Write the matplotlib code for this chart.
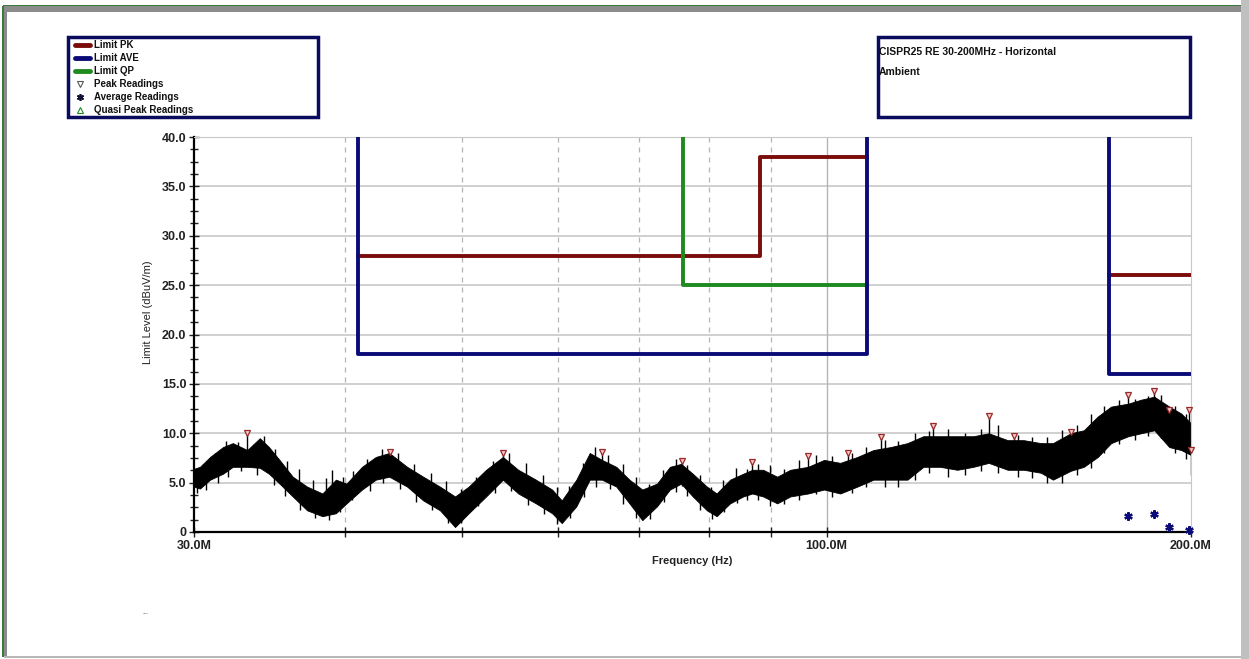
import numpy as np
import matplotlib
matplotlib.use("Agg")
import matplotlib.pyplot as plt
from matplotlib.patches import Rectangle
from matplotlib.lines import Line2D

plt.rcParams["font.family"] = ["Liberation Sans", "DejaVu Sans"]

W, H = 1249, 659

# ambient trace envelope (MHz, dBuV/m)
freq = [30.0, 30.34, 30.93, 31.7, 32.3, 33.2, 34.0, 34.6, 35.3, 36.2, 37.2, 38.3,
        39.3, 40.1, 41.3, 42.4, 43.5, 45.0, 46.4, 47.9, 49.3, 50.6, 52.3, 54.0,
        55.6, 57.5, 59.3, 60.4, 62.1, 63.7, 65.2, 67.0, 68.7, 70.4, 72.4, 74.2,
        75.8, 77.5, 79.6, 81.1, 83.2, 85.3, 86.8, 88.6, 91.0, 93.3, 96.5, 99.5,
        102.6, 106.0, 109.3, 112.9, 116.6, 120.2, 124.1, 128.2, 132.2, 136.1,
        141.1, 145.5, 150.3, 153.8, 159.1, 163.1, 167.5, 171.8, 177.5, 181.9,
        186.5, 191.9, 196.3, 200.0]
low = [4.6, 4.4, 5.3, 5.9, 6.6, 6.6, 6.5, 5.9, 4.9, 3.6, 2.2, 1.6,
       1.9, 2.9, 4.3, 5.3, 5.6, 4.6, 3.2, 2.2, 0.5, 1.9, 3.6, 5.3,
       3.9, 2.9, 1.9, 0.9, 2.6, 5.3, 5.3, 4.6, 2.9, 1.2, 2.6, 4.3,
       4.9, 3.6, 2.2, 1.6, 2.9, 3.6, 3.9, 3.6, 2.9, 3.6, 3.9, 4.3,
       3.9, 4.6, 5.3, 5.3, 5.3, 6.6, 6.6, 6.3, 6.6, 7.0,
       6.3, 6.3, 6.0, 5.3, 6.2, 6.6, 7.6, 9.0, 9.7, 10.0,
       10.3, 8.6, 8.3, 7.8]
high = [6.4, 6.6, 7.6, 8.6, 9.0, 8.3, 9.5, 8.6, 7.3, 5.6, 4.6, 3.9,
        5.3, 4.9, 6.6, 7.6, 8.0, 6.6, 5.6, 4.6, 3.6, 4.6, 6.3, 7.6,
        6.3, 5.3, 4.3, 3.2, 5.3, 8.0, 7.3, 6.6, 5.3, 4.3, 4.9, 6.6,
        6.9, 5.9, 4.6, 3.9, 5.3, 5.9, 6.3, 6.3, 5.6, 6.3, 6.6, 7.3,
        7.0, 7.6, 8.3, 8.6, 9.0, 9.7, 9.7, 9.7, 9.7, 10.0,
        9.3, 9.3, 9.0, 9.0, 10.0, 10.3, 11.7, 12.7, 13.0, 13.4,
        13.7, 12.7, 12.0, 11.0]

# individual noise spikes poking out of the band
up_f = [30.5, 31.2, 31.9, 32.6, 33.6, 34.3, 35.0, 35.8, 36.6, 37.6, 38.6, 39.0,
        39.8, 40.6, 41.7, 42.9, 44.2, 45.6, 47.1, 48.5, 49.9, 51.3, 53.0, 54.6,
        56.4, 58.3, 59.8, 61.2, 62.9, 64.3, 66.0, 67.8, 69.5, 71.3, 73.3, 75.0,
        76.6, 78.5, 80.3, 82.1, 84.2, 86.0, 87.7, 89.8, 92.2, 94.9, 98.0, 101.0,
        104.9, 107.7, 111.8, 114.6, 118.4, 121.4, 126.0, 130.2, 134.0, 138.5,
        143.8, 147.9, 152.0, 156.4, 161.0, 165.3, 169.6, 174.5, 179.7, 184.2,
        189.0, 194.0, 198.0]
up_v = [6.9, 8.0, 9.2, 9.1, 8.9, 9.7, 8.4, 7.2, 6.4, 5.3, 5.5, 6.3,
        5.6, 6.2, 7.4, 8.4, 8.0, 6.9, 6.0, 5.2, 4.4, 5.6, 7.2, 8.0,
        7.0, 5.8, 4.6, 4.7, 7.0, 8.6, 7.8, 6.9, 5.6, 4.9, 6.3, 7.4,
        6.8, 5.8, 4.6, 5.3, 6.5, 6.4, 6.9, 6.8, 6.4, 7.3, 7.8, 7.7,
        8.0, 8.6, 9.3, 9.2, 10.0, 10.2, 10.4, 10.0, 10.4, 10.8,
        9.8, 9.6, 9.6, 10.3, 10.8, 11.9, 12.8, 13.4, 13.5, 13.8,
        13.9, 12.8, 12.0]
down_f = [30.2, 30.7, 31.4, 32.0, 32.8, 33.8, 34.9, 35.7, 36.7, 37.8, 38.8, 39.6,
          40.5, 41.9, 43.0, 44.4, 45.8, 47.2, 48.6, 49.9, 51.5, 53.2, 54.8, 56.6,
          58.4, 59.8, 61.3, 63.0, 64.5, 66.2, 67.9, 69.6, 71.4, 73.4, 75.0, 76.7,
          78.6, 80.4, 82.2, 84.3, 86.0, 87.7, 89.8, 92.2, 94.9, 98.0, 101.0, 104.9,
          107.7, 111.8, 114.6, 118.4, 121.4, 126.0, 130.2, 134.0, 138.5, 143.8,
          147.9, 152.0, 156.4, 161.0, 165.3, 169.6, 174.5, 179.7, 184.2, 189.0,
          194.0, 198.0]
down_v = [4.0, 4.3, 5.0, 5.6, 6.2, 5.8, 4.8, 3.6, 2.2, 1.4, 1.2, 2.0,
          3.2, 4.2, 5.0, 4.4, 3.0, 2.2, 0.9, 0.9, 2.6, 4.0, 4.2, 2.7,
          1.8, 0.8, 1.4, 3.5, 4.6, 4.4, 2.8, 1.4, 1.3, 3.0, 4.1, 3.6,
          2.2, 1.3, 2.0, 2.9, 3.2, 3.2, 2.6, 2.8, 3.2, 3.8, 3.5, 3.9,
          4.6, 4.6, 4.6, 5.3, 6.0, 5.6, 5.8, 6.2, 6.0, 5.6,
          5.5, 5.0, 5.0, 5.8, 6.5, 8.0, 8.9, 9.3, 9.7, 9.5,
          8.0, 7.4]

peak_f = [33.2, 43.6, 54.0, 65.2, 75.9, 86.8, 96.5, 104.2, 110.9, 122.5, 136.1,
          142.7, 159.1, 177.5, 186.5, 191.9, 199.3, 200.0]
peak_v = [10.0, 8.1, 8.0, 8.1, 7.2, 7.1, 7.7, 8.0, 9.6, 10.7, 11.7,
          9.7, 10.1, 13.9, 14.3, 12.4, 12.4, 8.3]

ave_f = [177.5, 186.5, 191.9, 199.3]
ave_v = [1.65, 1.8, 0.55, 0.2]

# limit segments
pk_f = [41, 88, 88, 108]
pk_v = [28, 28, 38, 38]
ave_lim_f = [41, 41, 108, 108]
ave_lim_v = [45, 18, 18, 45]
qp_f = [76, 76, 108]
qp_v = [45, 25, 25]
pk2_f = [171, 200]
pk2_v = [26, 26]
ave2_f = [171, 171, 200]
ave2_v = [45, 16, 16]

C_PK = "#7a0c0c"
C_AVE = "#0b0b78"
C_QP = "#1f8a1f"
NAVY = "#0b0b5e"


def fx(x):
    return x / W


def fy(y):
    return 1 - y / H


fig = plt.figure(figsize=(W / 100, H / 100), dpi=100)
fig.patch.set_facecolor("white")

# window frame
fig.add_artist(Rectangle((fx(3), fy(6)), fx(1238), 1.5 / H, transform=fig.transFigure,
                         facecolor="#3a7a3a", edgecolor="none"))
fig.add_artist(Rectangle((fx(4), fy(12)), fx(1237), 6 / H, transform=fig.transFigure,
                         facecolor="#8c8c8c", edgecolor="none"))
fig.add_artist(Rectangle((fx(2), fy(657)), fx(2), 651 / H, transform=fig.transFigure,
                         facecolor="#3a7a3a", edgecolor="none"))
fig.add_artist(Rectangle((fx(4), fy(657)), fx(3), 645 / H, transform=fig.transFigure,
                         facecolor="#8c8c8c", edgecolor="none"))
fig.add_artist(Rectangle((fx(1241), 0), fx(8), 1, transform=fig.transFigure,
                         facecolor="#c0c0c0", edgecolor="none"))
fig.add_artist(Rectangle((fx(4), fy(658)), fx(1237), 2 / H, transform=fig.transFigure,
                         facecolor="#b8b8b8", edgecolor="none"))

ax = fig.add_axes([fx(194), fy(532), fx(1191 - 194), (532 - 137) / H])
ax.set_xscale("log")
ax.set_xlim(30, 200)
ax.set_ylim(0, 40)

for v in range(5, 41, 5):
    ax.axhline(v, color="#c8c8c8", lw=1.2, zorder=0)
for f in [40, 50, 60, 70, 80, 90]:
    ax.axvline(f, color="#b4b4b4", lw=0.9, ls=(0, (4, 4)), zorder=0)
ax.axvline(100, color="#b4b4b4", lw=1.0, zorder=0)

# ambient scan: filled band with spikes sticking out of it
ax.fill_between(freq, low, high, color="black", lw=0.6, edgecolor="black", zorder=2)
ax.vlines(up_f, [v - 2.0 for v in up_v], up_v, color="black", lw=1.0, zorder=2)
ax.vlines(down_f, down_v, [v + 2.0 for v in down_v], color="black", lw=1.0, zorder=2)
ax.vlines(peak_f, [v - 2.5 for v in peak_v], peak_v, color="black", lw=1.0, zorder=2)

ax.plot(pk_f, pk_v, color=C_PK, lw=2.8, zorder=3)
ax.plot(pk2_f, pk2_v, color=C_PK, lw=2.8, zorder=3)
ax.plot(qp_f, qp_v, color=C_QP, lw=2.8, zorder=3)
ax.plot(ave_lim_f, ave_lim_v, color=C_AVE, lw=2.8, zorder=3)
ax.plot(ave2_f, ave2_v, color=C_AVE, lw=2.8, zorder=3)

ax.plot(peak_f, peak_v, ls="none", marker="v", ms=5, mfc="#f4c8c8",
        mec="#9a2a2a", mew=0.9, zorder=4, clip_on=False)
ax.plot(ave_f, ave_v, ls="none", marker=(6, 2, 0), ms=6, mec=C_AVE,
        mew=1.6, zorder=4, clip_on=False)

ax.set_xticks([30, 40, 50, 60, 70, 80, 90, 100, 200])
ax.set_xticklabels(["30.0M", "", "", "", "", "", "", "100.0M", "200.0M"])
ax.xaxis.set_minor_locator(matplotlib.ticker.NullLocator())
ax.set_yticks(range(0, 41, 5))
ax.set_yticklabels(["0"] + ["%.1f" % v for v in range(5, 41, 5)])
ax.set_yticks(np.arange(0, 40.01, 1.25), minor=True)
ax.tick_params(axis="both", which="major", direction="inout", length=7, width=1.0,
               labelsize=9, colors="#222222", pad=2)
ax.tick_params(axis="y", which="minor", direction="inout", length=6, width=1.0,
               colors="#222222")
for lab in ax.get_xticklabels() + ax.get_yticklabels():
    lab.set_fontweight("bold")

ax.spines["left"].set_linewidth(1.6)
ax.spines["bottom"].set_linewidth(1.6)
ax.spines["top"].set_color("#c8c8c8")
ax.spines["right"].set_color("#c8c8c8")

fig.text(fx(692), fy(561), "Frequency (Hz)", fontsize=8, fontweight="bold",
         ha="center", va="center", color="#222222")
fig.text(fx(148), fy(312), "Limit Level (dBuV/m)", fontsize=8, rotation=90,
         ha="center", va="center", color="#222222")

# legend box
fig.add_artist(Rectangle((fx(68), fy(117)), fx(250), 80 / H, transform=fig.transFigure,
                         facecolor="white", edgecolor=NAVY, lw=2.5))
leg_labels = ["Limit PK", "Limit AVE", "Limit QP", "Peak Readings",
              "Average Readings", "Quasi Peak Readings"]
leg_y = [45, 58, 71, 84, 97, 110]
for i, (lab, yy) in enumerate(zip(leg_labels, leg_y)):
    if i < 3:
        fig.add_artist(Line2D([fx(75), fx(90)], [fy(yy), fy(yy)], transform=fig.transFigure,
                              color=[C_PK, C_AVE, C_QP][i], lw=3.5, solid_capstyle="round"))
    elif i == 3:
        fig.add_artist(Line2D([fx(80)], [fy(yy)], transform=fig.transFigure, marker="v",
                              ms=4, mfc="white", mec="#555555", mew=0.8, ls="none"))
    elif i == 4:
        fig.add_artist(Line2D([fx(80)], [fy(yy)], transform=fig.transFigure, marker=(6, 2, 0),
                              ms=5, mec="#111133", mew=1.2, ls="none"))
    else:
        fig.add_artist(Line2D([fx(80)], [fy(yy)], transform=fig.transFigure, marker="^",
                              ms=4, mfc="white", mec=C_QP, mew=0.8, ls="none"))
    fig.text(fx(94), fy(yy), lab, fontsize=7, fontweight="bold", ha="left",
             va="center", color="#111111")

# title box
fig.add_artist(Rectangle((fx(878), fy(117)), fx(312), 80 / H, transform=fig.transFigure,
                         facecolor="white", edgecolor=NAVY, lw=2.5))
fig.text(fx(879), fy(52), "CISPR25 RE 30-200MHz - Horizontal", fontsize=7.5,
         fontweight="bold", ha="left", va="center", color="#111111")
fig.text(fx(879), fy(72), "Ambient", fontsize=7.5, fontweight="bold",
         ha="left", va="center", color="#111111")

fig.text(fx(142), fy(614), "...", fontsize=5, color="#333333")

fig.savefig("out.png", dpi=100, facecolor="white")
